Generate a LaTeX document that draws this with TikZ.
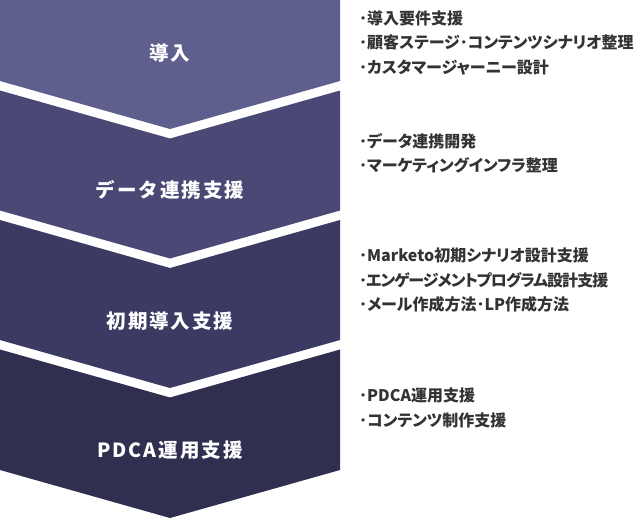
\documentclass[tikz,border=0pt]{standalone}
\usepackage{fontspec}
\newfontfamily\jphead{Noto Sans CJK JP}[LetterSpace=10]
\newfontfamily\jplist{Noto Sans CJK JP}[Script=Kana,RawFeature=+palt]
\newfontfamily\jptight{Noto Sans CJK JP}[Script=Kana,RawFeature=+palt,LetterSpace=-6]
\definecolor{bandA}{RGB}{95,95,141}
\definecolor{bandB}{RGB}{74,73,118}
\definecolor{bandC}{RGB}{59,58,98}
\definecolor{bandD}{RGB}{48,47,80}
\definecolor{txt}{RGB}{51,51,51}
\tikzset{
  headtext/.style={text=white, inner sep=0pt, font=\jphead\bfseries\fontsize{19.5}{22}\selectfont},
  listtext/.style={text=txt, inner sep=0pt, anchor=north west, align=left,
    font=\jplist\bfseries\fontsize{16}{24.5}\selectfont},
}
\begin{document}
\begin{tikzpicture}[x=1pt,y=-1pt]
\useasboundingbox (0,0) rectangle (640,520);
% bands
\fill[bandA] (0,0) -- (340,0) -- (340,81) -- (170,129) -- (0,81) -- cycle;
\fill[bandB] (0,90.5) -- (170,138.5) -- (340,90.5) -- (340,210.5) -- (170,258.5) -- (0,210.5) -- cycle;
\fill[bandC] (0,220) -- (170,268) -- (340,220) -- (340,340) -- (170,388) -- (0,340) -- cycle;
\fill[bandD] (0,349.5) -- (170,397.5) -- (340,349.5) -- (340,470) -- (170,518) -- (0,470) -- cycle;
% labels
\node[headtext] (h1) at (170,53) {導入};
\node[headtext] (h2) at (170,190) {データ連携支援};
\node[headtext] (h3) at (170,321) {初期導入支援};
\node[headtext] (h4) at (170,450) {PDCA運用支援};
% lists
\node[listtext] (l1) at (359,10.5) {･導入要件支援\\･顧客ステージ･コンテンツシナリオ整理\\･カスタマージャーニー設計};
\node[listtext] (l2) at (359,133) {･データ連携開発\\･マーケティングインフラ整理};
\node[listtext] (l3) at (359,248) {･Marketo初期シナリオ設計支援\\{\jptight ･エンゲージメントプログラム設計支援}\\･メール作成方法･LP作成方法};
\node[listtext] (l4) at (359,388) {･PDCA運用支援\\･コンテンツ制作支援};
\end{tikzpicture}
\end{document}
